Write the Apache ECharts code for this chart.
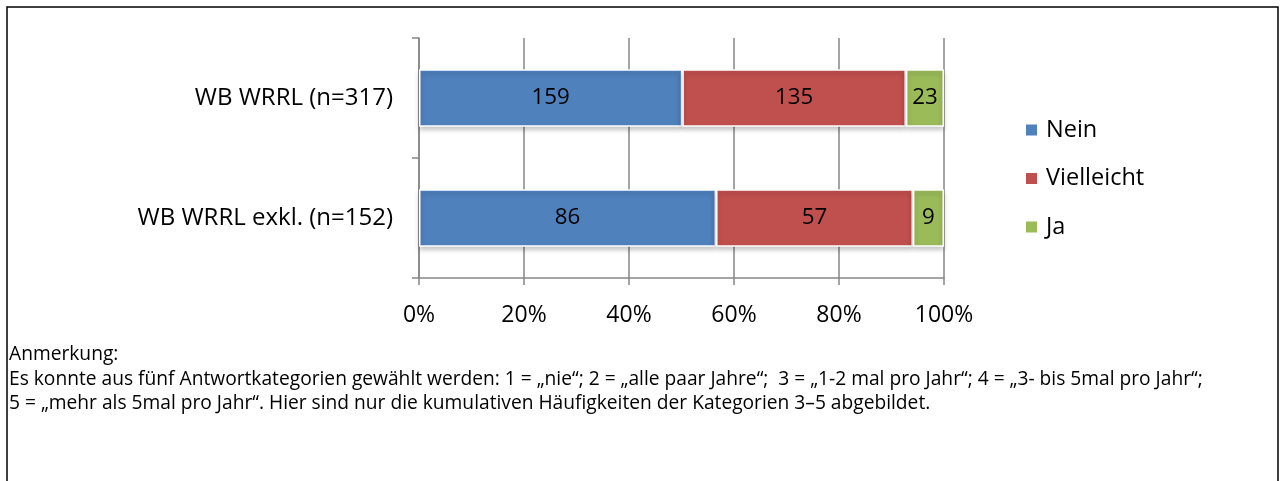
<!DOCTYPE html>
<html><head><meta charset="utf-8">
<script src="https://cdn.jsdelivr.net/npm/echarts@6/dist/echarts.min.js"></script>
<style>html,body{margin:0;padding:0;background:#fff}#c{width:1283px;height:481px}</style>
</head><body><div id="c"></div>
<script>
const categories = ['WB WRRL (n=317)', 'WB WRRL exkl. (n=152)'];
const seriesNames = ['Nein', 'Vielleicht', 'Ja'];
const nein = [159, 86];
const vielleicht = [135, 57];
const ja = [23, 9];
const xTicks = [0, 20, 40, 60, 80, 100];
const noteLines = [
  'Anmerkung:',
  'Es konnte aus fünf Antwortkategorien gewählt werden: 1 = „nie“; 2 = „alle paar Jahre“;  3 = „1-2 mal pro Jahr“; 4 = „3- bis 5mal pro Jahr“;',
  '5 = „mehr als 5mal pro Jahr“. Hier sind nur die kumulativen Häufigkeiten der Kategorien 3–5 abgebildet.'
];
const colors = ['#4F81BD', '#C0504D', '#9BBB59'];
const raw = [nein, vielleicht, ja];
const totals = categories.map((c, i) => nein[i] + vielleicht[i] + ja[i]);
const FONT = '"Open Sans", Lato, sans-serif';

const chart = echarts.init(document.getElementById('c'));
chart.setOption({
  animation: false,
  color: colors,
  grid: { left: 419, right: 339, top: 38, bottom: 203 },
  xAxis: {
    type: 'value', min: 0, max: 100, interval: 20,
    axisLine: { show: true, lineStyle: { color: '#868686', width: 1.5 } },
    axisTick: { show: true, length: 7, lineStyle: { color: '#868686', width: 1.5 } },
    splitLine: { show: true, lineStyle: { color: '#868686', width: 1.5 } },
    axisLabel: { formatter: v => v + '%', color: '#000', fontSize: 23, fontFamily: FONT, margin: 26 }
  },
  yAxis: {
    type: 'category', data: categories, inverse: true,
    axisLine: { show: true, lineStyle: { color: '#868686', width: 1.5 } },
    axisTick: { show: true, length: 7, lineStyle: { color: '#868686', width: 1.5 } },
    axisLabel: { color: '#000', fontSize: 24, fontFamily: FONT, margin: 26 }
  },
  legend: {
    orient: 'vertical', left: 1019, top: 113, itemGap: 24.5,
    itemWidth: 13, itemHeight: 13, icon: 'rect',
    textStyle: { fontSize: 23.5, fontFamily: FONT, color: '#000', padding: [0, 0, 0, 3] },
    data: seriesNames
  },
  series: seriesNames.map((name, s) => ({
    name, type: 'bar', stack: 'total', barWidth: '48%',
    itemStyle: { borderColor: '#fff', borderWidth: 1.5, shadowBlur: 5, shadowOffsetY: 3, shadowColor: 'rgba(0,0,0,0.25)' },
    label: {
      show: true, position: 'inside', color: '#000', fontSize: 22.3, fontFamily: FONT,
      formatter: p => String(raw[s][p.dataIndex])
    },
    data: raw[s].map((v, i) => v / totals[i] * 100)
  })),
  graphic: [
    { type: 'rect', shape: { x: 7, y: 7, width: 1271, height: 490 }, style: { fill: 'none', stroke: '#000', lineWidth: 1.5 }, silent: true }
  ].concat(noteLines.map((t, i) => ({
    type: 'text', x: 9, y: 355 + i * 24.5,
    style: { text: t, fontSize: 19.2, fontFamily: FONT, fill: '#000', verticalAlign: 'middle' }
  })))
});
</script></body></html>
